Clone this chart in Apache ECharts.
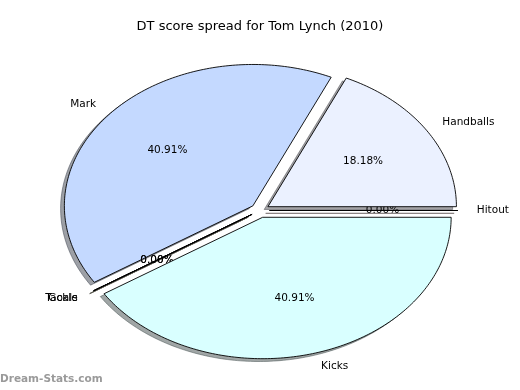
<!DOCTYPE html>
<html>
<head>
<meta charset="utf-8">
<script src="https://cdn.jsdelivr.net/npm/echarts@6/dist/echarts.min.js"></script>
<style>html,body{margin:0;padding:0;background:#fff}#c{width:520px;height:390px}</style>
</head>
<body>
<div id="c"></div>
<script>
// ---- data ----
const categories = ['Hitout', 'Handballs', 'Mark', 'Tackle', 'Goals', 'Kicks'];
const values = [0, 4, 9, 0, 0, 9];
const title = 'DT score spread for Tom Lynch (2010)';

// ---- style ----
const sliceColors = ['#ffe0e0', '#ebf1ff', '#c4d9ff', '#e0ffe0', '#fff0d0', '#d9ffff'];
const EXPLODE = 0.05;
const LABEL_DIST = 1.1;
const PCT_DIST = 0.6;
const SHADOW_OFF = 0.02;
const FONT = '10.5px "DejaVu Sans", sans-serif';
const CX = 260, CY = 210.5, RX = 188.5, RY = 141.4, SPAN = 1.25;

const total = values.reduce((a, b) => a + b, 0);
const starts = [];
let acc = 0;
values.forEach(v => { starts.push(acc); acc += v; });

function shadowColor(hex) {
  const r = parseInt(hex.slice(1, 3), 16), g = parseInt(hex.slice(3, 5), 16), b = parseInt(hex.slice(5, 7), 16);
  return 'rgba(' + Math.round(r * 0.3) + ',' + Math.round(g * 0.3) + ',' + Math.round(b * 0.3) + ',0.5)';
}

function wedgeGeom(i) {
  const t1 = starts[i] / total * 2 * Math.PI;
  const t2 = (starts[i] + values[i]) / total * 2 * Math.PI;
  const tm = (t1 + t2) / 2;
  const ox = EXPLODE * Math.cos(tm), oy = EXPLODE * Math.sin(tm);
  return { t1, t2, tm, ox, oy };
}

function wedgePoints(api, g, dx, dy) {
  const pts = [api.coord([g.ox + dx, g.oy + dy])];
  const n = Math.max(1, Math.ceil((g.t2 - g.t1) / (Math.PI / 180)));
  for (let k = 0; k <= n; k++) {
    const t = g.t1 + (g.t2 - g.t1) * k / n;
    pts.push(api.coord([g.ox + dx + Math.cos(t), g.oy + dy + Math.sin(t)]));
  }
  return pts;
}

const seriesData = values.map((v, i) => ({ name: categories[i], value: [i, v] }));

const chart = echarts.init(document.getElementById('c'), null, { renderer: 'canvas' });
chart.setOption({
  animation: false,
  backgroundColor: '#ffffff',
  title: {
    text: title, left: 'center', top: 15,
    textStyle: { fontFamily: 'DejaVu Sans', fontSize: 13, fontWeight: 'normal', color: '#000' }
  },
  grid: {
    left: CX - SPAN * RX, width: 2 * SPAN * RX, top: CY - SPAN * RY, height: 2 * SPAN * RY,
    containLabel: false, outerBoundsMode: 'none'
  },
  xAxis: { type: 'value', min: -SPAN, max: SPAN, show: false },
  yAxis: { type: 'value', min: -SPAN, max: SPAN, show: false },
  graphic: [{
    type: 'text', left: 0, top: 374,
    style: { text: 'Dream-Stats.com', fill: '#9a9a9a', font: 'bold 10.5px "DejaVu Sans", sans-serif' }
  }],
  series: [
    {
      type: 'custom', coordinateSystem: 'cartesian2d', z: 1, clip: false, silent: true,
      data: seriesData,
      renderItem: function (params, api) {
        const i = params.dataIndex;
        const g = wedgeGeom(i);
        const sc = shadowColor(sliceColors[i]);
        return {
          type: 'polygon',
          shape: { points: wedgePoints(api, g, -SHADOW_OFF, -SHADOW_OFF) },
          style: { fill: sc, stroke: sc, lineWidth: 1 }
        };
      }
    },
    {
      type: 'custom', coordinateSystem: 'cartesian2d', z: 2, clip: false, silent: true,
      data: seriesData,
      renderItem: function (params, api) {
        const i = params.dataIndex;
        const g = wedgeGeom(i);
        const lp = api.coord([g.ox + LABEL_DIST * Math.cos(g.tm), g.oy + LABEL_DIST * Math.sin(g.tm)]);
        const pp = api.coord([g.ox + PCT_DIST * Math.cos(g.tm), g.oy + PCT_DIST * Math.sin(g.tm)]);
        const align = Math.cos(g.tm) > 1e-9 ? 'left' : 'right';
        const pct = (values[i] / total * 100).toFixed(2) + '%';
        return {
          type: 'group',
          children: [
            {
              type: 'polygon',
              shape: { points: wedgePoints(api, g, 0, 0) },
              style: { fill: sliceColors[i], stroke: '#000', lineWidth: 0.9 }
            },
            {
              type: 'text', x: lp[0], y: lp[1],
              style: { text: categories[i], fill: '#000', font: FONT, align: align, textAlign: align, verticalAlign: 'middle', textVerticalAlign: 'middle' }
            },
            {
              type: 'text', x: pp[0], y: pp[1],
              style: { text: pct, fill: '#000', font: FONT, align: 'center', textAlign: 'center', verticalAlign: 'middle', textVerticalAlign: 'middle' }
            }
          ]
        };
      }
    }
  ]
});
</script>
</body>
</html>
